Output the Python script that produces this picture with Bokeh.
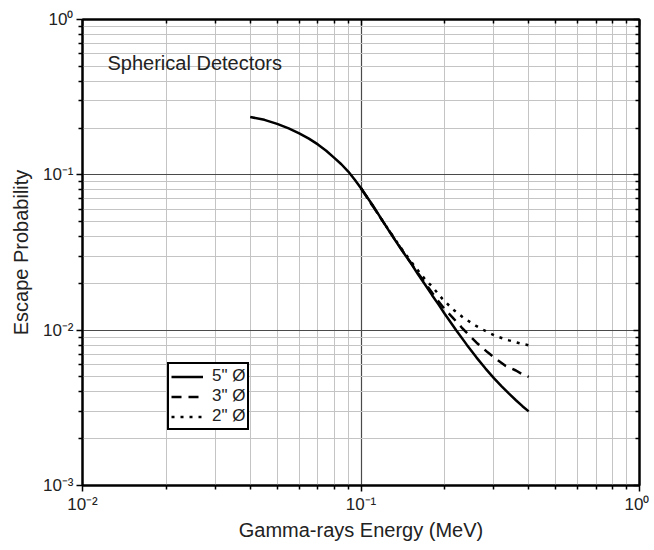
from bokeh.plotting import figure
from bokeh.models import (LogAxis, FixedTicker, CustomJSTickFormatter, Legend,
                          LegendItem, Label)
from bokeh.embed import file_html
from bokeh.resources import INLINE

# ---- data ----
energy_5in = [0.040, 0.045, 0.050, 0.055, 0.060, 0.065, 0.070, 0.075, 0.080,
              0.085, 0.090, 0.095, 0.100, 0.110, 0.120, 0.130, 0.140, 0.150,
              0.160, 0.170, 0.180, 0.190, 0.200, 0.220, 0.240, 0.260, 0.280,
              0.300, 0.320, 0.340, 0.360, 0.380, 0.400]
esc_5in = [0.236, 0.226, 0.213, 0.199, 0.185, 0.171, 0.157, 0.143, 0.129,
           0.117, 0.105, 0.093, 0.082, 0.064, 0.050, 0.040, 0.0328, 0.0275,
           0.0230, 0.0196, 0.0168, 0.0146, 0.0127, 0.00996, 0.00804, 0.00666,
           0.00566, 0.00491, 0.00435, 0.00390, 0.00354, 0.00324, 0.00300]

energy_3in = [0.10, 0.12, 0.14, 0.16, 0.17, 0.18, 0.19, 0.20, 0.213, 0.23,
              0.244, 0.26, 0.285, 0.31, 0.33, 0.36, 0.38, 0.40]
esc_3in = [0.082, 0.050, 0.0330, 0.0234, 0.0201, 0.0174, 0.0153, 0.0136,
           0.0121, 0.0104, 0.0093, 0.0083, 0.0072, 0.0064, 0.0059, 0.0055,
           0.0052, 0.0050]

energy_2in = [0.10, 0.12, 0.14, 0.155, 0.17, 0.18, 0.196, 0.214, 0.235,
              0.258, 0.282, 0.308, 0.34, 0.374, 0.40]
esc_2in = [0.082, 0.050, 0.0333, 0.0261, 0.0212, 0.0191, 0.0159, 0.0136,
           0.0119, 0.0107, 0.0098, 0.0091, 0.0086, 0.0082, 0.0080]

x_major = [0.01, 0.1, 1.0]
y_major = [0.001, 0.01, 0.1, 1.0]
minor_mult = [2, 3, 4, 5, 6, 7, 8, 9]

series_labels = ['5" Ø', '3" Ø', '2" Ø']
title_text = "Spherical Detectors"
x_title = "Gamma-rays Energy (MeV)"
y_title = "Escape Probability"

FONT = "Liberation Sans"

x_minor = [m * d for d in x_major[:-1] for m in minor_mult]
y_minor = [m * d for d in y_major[:-1] for m in minor_mult]


def xtk():
    return FixedTicker(ticks=x_major, minor_ticks=x_minor)


def ytk():
    return FixedTicker(ticks=y_major, minor_ticks=y_minor)


p = figure(x_axis_type="log", y_axis_type="log",
           x_range=(0.01, 1), y_range=(0.001, 1),
           frame_width=557, frame_height=466,
           min_border_left=82, min_border_right=10,
           min_border_top=19, min_border_bottom=60,
           output_backend="svg", toolbar_location=None)
p.outline_line_color = "black"
p.outline_line_width = 2
p.background_fill_color = "white"
p.border_fill_color = "white"

sup_code = """
const e = Math.round(Math.log10(tick));
const sup = {'-':'\u207b','0':'\u2070','1':'\u00b9','2':'\u00b2','3':'\u00b3'};
return '10' + String(e).split('').map(c => sup[c]).join('');
"""
blank_code = "return '';"

for ax in (p.xaxis[0], p.yaxis[0]):
    ax.formatter = CustomJSTickFormatter(code=sup_code)
    ax.axis_line_width = 2
    ax.major_tick_line_width = 1.5
    ax.minor_tick_line_width = 1.5
    ax.major_tick_out = 6
    ax.major_tick_in = 0
    ax.minor_tick_out = 4
    ax.minor_tick_in = 0
    ax.major_label_text_font = FONT
    ax.major_label_text_font_size = "17px"
    ax.major_label_text_color = "#222222"
    ax.axis_label_text_font = FONT
    ax.axis_label_text_font_size = "20px"
    ax.axis_label_text_font_style = "normal"
    ax.axis_label_text_color = "#222222"
p.xaxis[0].ticker = xtk()
p.yaxis[0].ticker = ytk()
p.xaxis[0].axis_label = x_title
p.yaxis[0].axis_label = y_title
p.xaxis[0].major_label_standoff = 3
p.xaxis[0].axis_label_standoff = 2
p.yaxis[0].major_label_standoff = 3
p.yaxis[0].axis_label_standoff = 8

top = LogAxis(ticker=xtk(), formatter=CustomJSTickFormatter(code=blank_code))
right = LogAxis(ticker=ytk(), formatter=CustomJSTickFormatter(code=blank_code))
for ax in (top, right):
    ax.axis_line_width = 2
    ax.major_tick_in = 6
    ax.major_tick_out = 0
    ax.minor_tick_in = 4
    ax.minor_tick_out = 0
    ax.major_tick_line_width = 1.5
    ax.minor_tick_line_width = 1.5
    ax.major_label_standoff = 0
    ax.major_label_text_font_size = "1px"
p.add_layout(top, "above")
p.add_layout(right, "right")

for g in (p.xgrid[0], p.ygrid[0]):
    g.grid_line_color = "#4a4a4a"
    g.grid_line_width = 1.2
    g.minor_grid_line_color = "#c4c4c4"
    g.minor_grid_line_width = 1
p.xgrid[0].ticker = xtk()
p.ygrid[0].ticker = ytk()

r2 = p.line(energy_2in, esc_2in, line_color="black", line_width=2.5,
            line_dash="3 6")
r3 = p.line(energy_3in, esc_3in, line_color="black", line_width=2.5,
            line_dash="10 7")
r5 = p.line(energy_5in, esc_5in, line_color="black", line_width=2.5)

legend = Legend(items=[LegendItem(label=series_labels[0], renderers=[r5]),
                       LegendItem(label=series_labels[1], renderers=[r3]),
                       LegendItem(label=series_labels[2], renderers=[r2])],
                location=(85, 55))
legend.border_line_color = "black"
legend.border_line_alpha = 1
legend.border_line_width = 2
legend.background_fill_alpha = 1
legend.label_text_font = FONT
legend.label_text_font_size = "17px"
legend.label_text_color = "#222222"
legend.glyph_width = 32
legend.glyph_height = 17
legend.label_height = 17
legend.label_standoff = 9
legend.spacing = 0
legend.padding = 2
legend.margin = 0
p.add_layout(legend)

p.add_layout(Label(x=25, y=423, x_units="screen", y_units="screen",
                   text=title_text, text_font=FONT, text_font_size="20px",
                   text_baseline="middle", text_color="#222222"))

open("out.html", "w").write(file_html(p, INLINE))
